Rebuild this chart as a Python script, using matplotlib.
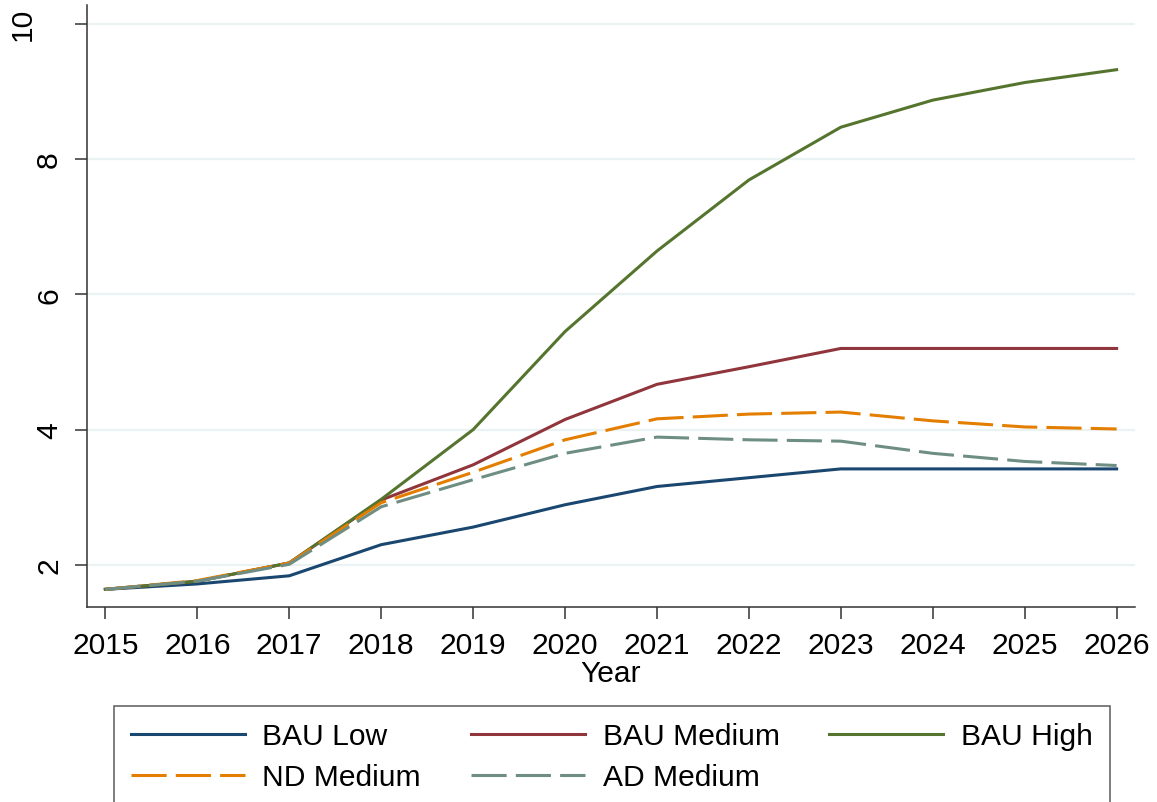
import matplotlib
matplotlib.use("Agg")
import matplotlib.pyplot as plt
from matplotlib.transforms import ScaledTranslation

plt.rcParams['font.family'] = ['Liberation Sans', 'DejaVu Sans']

years = [2015, 2016, 2017, 2018, 2019, 2020, 2021, 2022, 2023, 2024, 2025, 2026]
bau_low = [1.64, 1.72, 1.84, 2.30, 2.56, 2.89, 3.16, 3.29, 3.42, 3.42, 3.42, 3.42]
bau_medium = [1.64, 1.76, 2.03, 2.96, 3.48, 4.15, 4.67, 4.93, 5.20, 5.20, 5.20, 5.20]
bau_high = [1.64, 1.76, 2.03, 2.97, 4.00, 5.45, 6.64, 7.69, 8.47, 8.87, 9.13, 9.32]
nd_medium = [1.64, 1.77, 2.03, 2.92, 3.37, 3.85, 4.16, 4.23, 4.26, 4.13, 4.04, 4.01]
ad_medium = [1.64, 1.76, 2.01, 2.86, 3.26, 3.65, 3.89, 3.85, 3.83, 3.65, 3.53, 3.47]
y_ticks = [2, 4, 6, 8, 10]

W, H = 1157, 803
fig = plt.figure(figsize=(W / 100, H / 100), dpi=100)
ax = fig.add_axes([87 / W, 1 - 608 / H, (1135 - 87) / W, (608 - 6) / H])

lw = 2.2
dash = (0, (11.5, 3.0))
h_low, = ax.plot(years, bau_low, color='#1a476f', lw=lw, label='BAU Low', zorder=3)
h_med, = ax.plot(years, bau_medium, color='#90353b', lw=lw, label='BAU Medium', zorder=3)
h_high, = ax.plot(years, bau_high, color='#55752f', lw=lw, label='BAU High', zorder=3)
h_nd, = ax.plot(years, nd_medium, color='#e37e00', lw=lw, ls=dash, label='ND Medium', zorder=3)
h_ad, = ax.plot(years, ad_medium, color='#6e8e84', lw=lw, ls=dash, label='AD Medium', zorder=3)

ax.set_xlim(2014.8, 2026.2)
ax.set_ylim(1.379, 10.276)
ax.set_xticks(years)
ax.set_xticklabels([str(y) for y in years])
ax.set_yticks(y_ticks)
ax.set_yticklabels([str(v) for v in y_ticks], rotation=90, va='center')

for t in y_ticks:
    ax.axhline(t, color='#eaf2f3', lw=1.6, zorder=1)

for s in ['top', 'right']:
    ax.spines[s].set_visible(False)
for s in ['left', 'bottom']:
    ax.spines[s].set_color('#333333')
    ax.spines[s].set_linewidth(1.1)

ax.tick_params(axis='both', labelsize=21.6, length=8.6, width=1.1, color='#333333')
ax.tick_params(axis='x', pad=9.0)
ax.tick_params(axis='y', pad=8.6)
ax.set_xlabel('Year', fontsize=21.6, labelpad=0)

# shift the '10' label left like the reference
for lab in ax.get_yticklabels():
    if lab.get_text() == '10':
        lab.set_transform(lab.get_transform() + ScaledTranslation(-0.26, 0, fig.dpi_scale_trans))

handles = [h_low, h_nd, h_med, h_ad, h_high]
leg = fig.legend(handles=handles, labels=[h.get_label() for h in handles],
                 loc='upper left', bbox_to_anchor=(114 / W, 1 - 707 / H),
                 bbox_transform=fig.transFigure, borderaxespad=0, ncol=3,
                 fontsize=21.6, frameon=True, fancybox=False,
                 handlelength=3.8, handletextpad=0.6, columnspacing=1.65,
                 labelspacing=0.42, borderpad=0.55)
leg.get_frame().set_edgecolor('#333333')
leg.get_frame().set_linewidth(1.1)

fig.savefig('out.png', dpi=100)
